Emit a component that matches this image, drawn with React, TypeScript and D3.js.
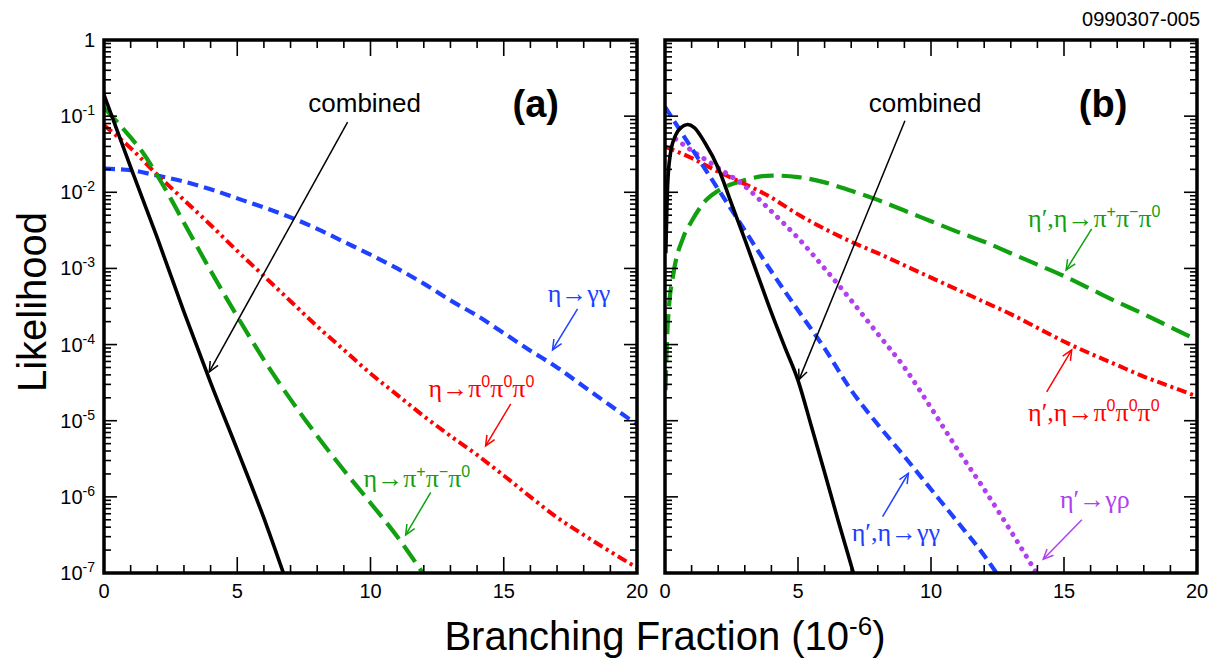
import * as d3 from "d3";

// axis ticks
const X_TICKS = [0, 5, 10, 15, 20];
const Y_EXPONENTS = [0, -1, -2, -3, -4, -5, -6, -7];

// curves: [branching fraction (1e-6), log10(likelihood)]
const aCombined = [[0, -0.72], [1, -1.67], [2, -2.6], [3, -3.57], [4, -4.5], [5, -5.38], [6, -6.28], [6.75, -7.02]];
const aPiPiPi = [[0, -0.89], [0.5, -1.08], [1, -1.28], [1.5, -1.5], [2, -1.78], [2.5, -2.08], [3, -2.4], [4, -3.03], [5, -3.63], [6, -4.2], [7, -4.72], [8, -5.2], [9, -5.65], [10, -6.08], [11, -6.52], [12, -7.02]];
const aPi0 = [[0, -1.12], [1, -1.42], [2, -1.77], [3, -2.1], [4, -2.43], [5, -2.77], [6, -3.1], [7, -3.43], [8, -3.76], [9, -4.07], [10, -4.38], [11, -4.66], [12, -4.94], [13, -5.2], [14, -5.45], [15, -5.72], [16, -6.0], [17, -6.27], [18, -6.5], [19, -6.72], [20, -6.93]];
const aGG = [[0, -1.69], [1, -1.71], [2, -1.78], [3, -1.86], [4, -1.96], [5, -2.08], [6, -2.2], [7, -2.33], [8, -2.48], [9, -2.65], [10, -2.82], [11, -3.0], [12, -3.2], [13, -3.42], [14, -3.62], [15, -3.85], [16, -4.08], [17, -4.3], [18, -4.55], [19, -4.8], [20, -5.05]];

const bCombined = [[0.03, -2.8], [0.1, -1.9], [0.2, -1.5], [0.4, -1.25], [0.6, -1.15], [0.85, -1.11], [1.1, -1.15], [1.5, -1.35], [2, -1.68], [2.5, -2.15], [3, -2.62], [3.5, -3.1], [4, -3.58], [4.5, -4.03], [5, -4.47], [5.5, -5.07], [6, -5.68], [6.5, -6.3], [7.1, -7.02]];
const bGG = [[0, -0.88], [1, -1.42], [2, -1.96], [3, -2.5], [4, -3.04], [5, -3.55], [6, -4.05], [7, -4.6], [8, -5.05], [9, -5.47], [10, -5.9], [11, -6.33], [12, -6.77], [12.5, -7.02]];
const bGRho = [[0.4, -1.3], [1, -1.45], [2, -1.68], [3, -1.92], [4, -2.25], [5, -2.6], [6, -3.0], [7, -3.42], [8, -3.86], [9, -4.3], [10, -4.83], [11, -5.38], [12, -5.9], [13, -6.45], [14, -7.02]];
const bPi0 = [[0, -1.4], [1, -1.55], [2, -1.73], [3, -1.89], [4, -2.07], [5, -2.29], [6, -2.48], [7, -2.65], [8, -2.8], [9, -2.96], [10, -3.12], [11, -3.28], [12, -3.44], [13, -3.6], [14, -3.78], [15, -3.96], [16, -4.12], [17, -4.27], [18, -4.42], [19, -4.55], [20, -4.68]];
const bPiPiPi = [[0.02, -4.6], [0.08, -3.9], [0.15, -3.5], [0.3, -3.1], [0.7, -2.58], [1, -2.38], [1.5, -2.12], [2, -1.98], [3, -1.84], [4, -1.78], [5, -1.8], [6, -1.87], [7, -1.98], [8, -2.1], [9, -2.24], [10, -2.38], [11, -2.52], [12, -2.65], [13, -2.8], [14, -2.95], [15, -3.1], [16, -3.27], [17, -3.44], [18, -3.6], [19, -3.77], [20, -3.94]];

// annotation texts: parts starting with ^ are superscripts
const aLabels = [
  { parts: ["η→γγ"], at: [16.65, -3.44], arrow: [[17.77, -3.53], [16.83, -4.07]], color: "#2040ff" },
  { parts: ["η→π", "^0", "π", "^0", "π", "^0"], at: [12.18, -4.69], arrow: [[15.26, -4.78], [14.32, -5.33]], color: "#ff0000" },
  { parts: ["η→π", "^+", "π", "^−", "π", "^0"], at: [9.74, -5.87], arrow: [[12.26, -5.94], [11.32, -6.5]], color: "#10a010" },
];
const bLabels = [
  { parts: ["η′,η→π", "^+", "π", "^−", "π", "^0"], at: [13.65, -2.45], arrow: [[16.04, -2.48], [15.08, -3.02]], color: "#10a010" },
  { parts: ["η′,η→π", "^0", "π", "^0", "π", "^0"], at: [13.65, -5.01], arrow: [[14.35, -4.62], [15.29, -4.07]], color: "#ff0000" },
  { parts: ["η′→γρ"], at: [14.85, -6.14], arrow: [[15.67, -6.3], [14.22, -6.82]], color: "#b040f0" },
  { parts: ["η′,η→γγ"], at: [7.02, -6.58], arrow: [[8.18, -6.26], [9.15, -5.69]], color: "#2040ff" },
];
const combinedArrowA = [[9.14, -1.08], [3.95, -4.36]];
const combinedArrowB = [[9.02, -1.06], [5.04, -4.46]];

const TOP = 40;
const BOTTOM = 573;
const SANS = "Liberation Sans, Arial, Helvetica, sans-serif";
const SERIF = "Liberation Serif, Times New Roman, serif";

const y = d3.scaleLog().domain([1e-7, 1]).range([BOTTOM, TOP]);

function Arrow({ from, to, x, color }) {
  const x1 = x(from[0]), y1 = y(10 ** from[1]);
  const x2 = x(to[0]), y2 = y(10 ** to[1]);
  const ang = Math.atan2(y2 - y1, x2 - x1);
  const len = 11, spread = 0.42;
  const h1 = [x2 - len * Math.cos(ang - spread), y2 - len * Math.sin(ang - spread)];
  const h2 = [x2 - len * Math.cos(ang + spread), y2 - len * Math.sin(ang + spread)];
  return (
    <g stroke={color} strokeWidth={1.5} fill="none">
      <line x1={x1} y1={y1} x2={x2} y2={y2} />
      <polyline points={`${h1[0]},${h1[1]} ${x2},${y2} ${h2[0]},${h2[1]}`} />
    </g>
  );
}

function Rich({ parts, px, py, color }) {
  let up = false;
  return (
    <text x={px} y={py} fill={color} fontFamily={SERIF} fontSize={26}>
      {parts.map((p, i) => {
        const sup = p.startsWith("^");
        let dy = 0;
        if (sup && !up) { dy = -10; up = true; }
        else if (!sup && up) { dy = 10; up = false; }
        return sup ? (
          <tspan key={i} dy={dy} fontFamily={SANS} fontSize={16}>{p.slice(1)}</tspan>
        ) : (
          <tspan key={i} dy={dy}>{p}</tspan>
        );
      })}
    </text>
  );
}

function Panel({ id, x0, x1, series, labels, combinedArrow, tag, showY }) {
  const x = d3.scaleLinear().domain([0, 20]).range([x0, x1]);
  const line = d3.line().x(d => x(d[0])).y(d => y(10 ** d[1])).curve(d3.curveMonotoneX);
  const minorX = d3.range(0, 21).filter(v => v % 5 !== 0);
  const minorY = [];
  for (let e = -7; e < 0; e++) for (let m = 2; m <= 9; m++) minorY.push(m * 10 ** e);

  return (
    <g>
      <defs>
        <clipPath id={`clip-${id}`}>
          <rect x={x0} y={TOP} width={x1 - x0} height={BOTTOM - TOP} />
        </clipPath>
      </defs>
      <g clipPath={`url(#clip-${id})`} fill="none">
        {series.map((s, i) => (
          <path key={i} d={line(s.data)} stroke={s.color} strokeWidth={s.width}
            strokeDasharray={s.dash} strokeLinecap={s.cap || "butt"} />
        ))}
      </g>
      {/* ticks */}
      <g stroke="#000" strokeWidth={1.6}>
        {minorX.map(v => (
          <g key={`mx${v}`}>
            <line x1={x(v)} x2={x(v)} y1={BOTTOM} y2={BOTTOM - 8} />
            <line x1={x(v)} x2={x(v)} y1={TOP} y2={TOP + 8} />
          </g>
        ))}
        {X_TICKS.map(v => (
          <g key={`Mx${v}`}>
            <line x1={x(v)} x2={x(v)} y1={BOTTOM} y2={BOTTOM - 16} />
            <line x1={x(v)} x2={x(v)} y1={TOP} y2={TOP + 16} />
          </g>
        ))}
        {minorY.map((v, i) => (
          <g key={`my${i}`}>
            <line x1={x0} x2={x0 + 7} y1={y(v)} y2={y(v)} />
            <line x1={x1} x2={x1 - 7} y1={y(v)} y2={y(v)} />
          </g>
        ))}
        {Y_EXPONENTS.map(e => (
          <g key={`My${e}`}>
            <line x1={x0} x2={x0 + 13} y1={y(10 ** e)} y2={y(10 ** e)} />
            <line x1={x1} x2={x1 - 13} y1={y(10 ** e)} y2={y(10 ** e)} />
          </g>
        ))}
      </g>
      <rect x={x0} y={TOP} width={x1 - x0} height={BOTTOM - TOP} fill="none" stroke="#000" strokeWidth={3.5} />
      {/* tick labels */}
      {X_TICKS.map(v => (
        <text key={`tx${v}`} x={x(v)} y={598} textAnchor="middle" fontFamily={SANS} fontSize={20}>{v}</text>
      ))}
      {showY && Y_EXPONENTS.map(e => (
        <text key={`ty${e}`} x={x0 - 9} y={y(10 ** e) + 7} textAnchor="end" fontFamily={SANS} fontSize={20}>
          {e === 0 ? "1" : (
            <>
              <tspan>10</tspan>
              <tspan dy={-8} fontSize={14}>{e}</tspan>
            </>
          )}
        </text>
      ))}
      {/* annotations */}
      <text x={x(9.78)} y={y(10 ** -0.945)} textAnchor="middle" fontFamily={SANS} fontSize={26}>combined</text>
      <Arrow from={combinedArrow[0]} to={combinedArrow[1]} x={x} color="#000" />
      <text x={x(tag.at[0])} y={y(10 ** tag.at[1])} textAnchor="middle" fontFamily={SANS} fontSize={38} fontWeight="bold">{tag.text}</text>
      {labels.map((l, i) => (
        <g key={`l${i}`}>
          <Rich parts={l.parts} px={x(l.at[0])} py={y(10 ** l.at[1])} color={l.color} />
          <Arrow from={l.arrow[0]} to={l.arrow[1]} x={x} color={l.color} />
        </g>
      ))}
    </g>
  );
}

export default function App() {
  const seriesA = [
    { data: aGG, color: "#2040ff", width: 4.2, dash: "11 6" },
    { data: aPi0, color: "#ff0000", width: 4, dash: "10 4 3 4 3 4" },
    { data: aPiPiPi, color: "#10a010", width: 4.2, dash: "20 8" },
    { data: aCombined, color: "#000", width: 3.6 },
  ];
  const seriesB = [
    { data: bPiPiPi, color: "#10a010", width: 4.2, dash: "20 8" },
    { data: bPi0, color: "#ff0000", width: 4, dash: "10 4 3 4" },
    { data: bGRho, color: "#b040f0", width: 5, dash: "0.1 8.5", cap: "round" },
    { data: bGG, color: "#2040ff", width: 4.2, dash: "11 6" },
    { data: bCombined, color: "#000", width: 3.6 },
  ];
  return (
    <svg width={1216} height={662} style={{ position: "absolute", left: 0, top: 0, background: "#fff" }}>
      <rect width={1216} height={662} fill="#fff" />
      <Panel id="a" x0={104} x1={637} series={seriesA} labels={aLabels} combinedArrow={combinedArrowA}
        tag={{ text: "(a)", at: [16.2, -1.01] }} showY />
      <Panel id="b" x0={665} x1={1197} series={seriesB} labels={bLabels} combinedArrow={combinedArrowB}
        tag={{ text: "(b)", at: [16.47, -1.01] }} showY={false} />
      <text x={1200} y={26} textAnchor="end" fontFamily={SANS} fontSize={20}>0990307-005</text>
      <text transform="translate(46,302) rotate(-90)" textAnchor="middle" fontFamily={SANS} fontSize={40}>Likelihood</text>
      <text x={665} y={650} textAnchor="middle" fontFamily={SANS} fontSize={40}>
        <tspan>Branching Fraction (10</tspan>
        <tspan dy={-15} fontSize={26}>-6</tspan>
        <tspan dy={15}>)</tspan>
      </text>
    </svg>
  );
}
